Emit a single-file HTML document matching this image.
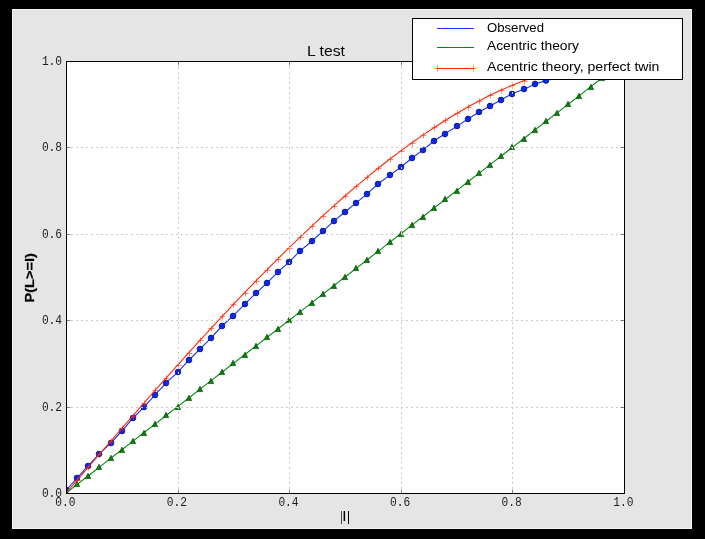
<!DOCTYPE html>
<html><head><meta charset="utf-8"><title>L test</title>
<style>
html,body{margin:0;padding:0;background:#000;}
body{width:705px;height:539px;overflow:hidden;}
svg{display:block;will-change:transform;}
text{font-family:"Liberation Sans",sans-serif;fill:#000;}
.mono{font-family:"Liberation Mono",monospace;font-size:12.7px;fill:#1c1c1c;}
</style></head><body>
<svg width="705" height="539" viewBox="0 0 705 539">
<rect x="0" y="0" width="705" height="539" fill="#000"/>
<rect x="12" y="9" width="680" height="520" fill="#e5e5e5"/>
<rect x="12.5" y="9.5" width="679" height="519" fill="none" stroke="#f4f4f4" stroke-width="1"/>
<rect x="66.5" y="61.5" width="558" height="432" fill="#fff"/>
<defs><clipPath id="ax"><rect x="66.5" y="61.5" width="558" height="432"/></clipPath></defs>
<g clip-path="url(#ax)">
<polyline points="66.00,490.49 77.16,477.84 88.32,465.68 99.48,453.52 110.64,443.36 121.80,431.20 132.96,418.04 144.12,406.88 155.28,394.72 166.44,382.56 177.60,372.40 188.76,360.24 199.92,349.08 211.08,337.92 222.24,325.76 233.40,315.60 244.56,304.44 255.72,293.28 266.88,283.12 278.04,271.96 289.20,261.80 300.36,250.64 311.52,241.48 322.68,231.32 333.84,221.16 345.00,212.00 356.16,202.84 367.32,193.68 378.48,183.52 389.64,175.36 400.80,167.20 411.96,158.04 423.12,149.88 434.28,140.72 445.44,133.56 456.60,126.40 467.76,119.24 478.92,112.08 490.08,105.92 501.24,99.76 512.40,93.60 523.56,89.44 534.72,84.28 545.88,80.62 557.04,75.69 568.20,72.23 579.36,69.21 590.52,66.62 601.68,64.46 612.84,62.73" fill="none" stroke="#1432ff" stroke-width="1.1"/>
<g fill="#0a28f5" stroke="#00003c" stroke-width="0.6">
<circle cx="66.00" cy="490.00" r="2.9"/>
<circle cx="77.00" cy="478.00" r="2.9"/>
<circle cx="88.00" cy="466.00" r="2.9"/>
<circle cx="99.00" cy="454.00" r="2.9"/>
<circle cx="111.00" cy="443.00" r="2.9"/>
<circle cx="122.00" cy="431.00" r="2.9"/>
<circle cx="133.00" cy="418.00" r="2.9"/>
<circle cx="144.00" cy="407.00" r="2.9"/>
<circle cx="155.00" cy="395.00" r="2.9"/>
<circle cx="166.00" cy="383.00" r="2.9"/>
<circle cx="178.00" cy="372.00" r="2.9"/>
<circle cx="189.00" cy="360.00" r="2.9"/>
<circle cx="200.00" cy="349.00" r="2.9"/>
<circle cx="211.00" cy="338.00" r="2.9"/>
<circle cx="222.00" cy="326.00" r="2.9"/>
<circle cx="233.00" cy="316.00" r="2.9"/>
<circle cx="245.00" cy="304.00" r="2.9"/>
<circle cx="256.00" cy="293.00" r="2.9"/>
<circle cx="267.00" cy="283.00" r="2.9"/>
<circle cx="278.00" cy="272.00" r="2.9"/>
<circle cx="289.00" cy="262.00" r="2.9"/>
<circle cx="300.00" cy="251.00" r="2.9"/>
<circle cx="312.00" cy="241.00" r="2.9"/>
<circle cx="323.00" cy="231.00" r="2.9"/>
<circle cx="334.00" cy="221.00" r="2.9"/>
<circle cx="345.00" cy="212.00" r="2.9"/>
<circle cx="356.00" cy="203.00" r="2.9"/>
<circle cx="367.00" cy="194.00" r="2.9"/>
<circle cx="378.00" cy="184.00" r="2.9"/>
<circle cx="390.00" cy="175.00" r="2.9"/>
<circle cx="401.00" cy="167.00" r="2.9"/>
<circle cx="412.00" cy="158.00" r="2.9"/>
<circle cx="423.00" cy="150.00" r="2.9"/>
<circle cx="434.00" cy="141.00" r="2.9"/>
<circle cx="445.00" cy="134.00" r="2.9"/>
<circle cx="457.00" cy="126.00" r="2.9"/>
<circle cx="468.00" cy="119.00" r="2.9"/>
<circle cx="479.00" cy="112.00" r="2.9"/>
<circle cx="490.00" cy="106.00" r="2.9"/>
<circle cx="501.00" cy="100.00" r="2.9"/>
<circle cx="512.00" cy="94.00" r="2.9"/>
<circle cx="524.00" cy="89.00" r="2.9"/>
<circle cx="535.00" cy="84.00" r="2.9"/>
<circle cx="546.00" cy="80.50" r="2.9"/>
<circle cx="557.00" cy="76.00" r="2.9"/>
<circle cx="568.00" cy="72.00" r="2.9"/>
<circle cx="579.00" cy="69.00" r="2.9"/>
<circle cx="591.00" cy="67.00" r="2.9"/>
<circle cx="602.00" cy="64.00" r="2.9"/>
<circle cx="613.00" cy="63.00" r="2.9"/>
</g>
<polyline points="66.00,493.00 77.16,484.36 88.32,475.72 99.48,467.08 110.64,458.44 121.80,449.80 132.96,441.16 144.12,432.52 155.28,423.88 166.44,415.24 177.60,406.60 188.76,397.96 199.92,389.32 211.08,380.68 222.24,372.04 233.40,363.40 244.56,354.76 255.72,346.12 266.88,337.48 278.04,328.84 289.20,320.20 300.36,311.56 311.52,302.92 322.68,294.28 333.84,285.64 345.00,277.00 356.16,268.36 367.32,259.72 378.48,251.08 389.64,242.44 400.80,233.80 411.96,225.16 423.12,216.52 434.28,207.88 445.44,199.24 456.60,190.60 467.76,181.96 478.92,173.32 490.08,164.68 501.24,156.04 512.40,147.40 523.56,138.76 534.72,130.12 545.88,121.48 557.04,112.84 568.20,104.20 579.36,95.56 590.52,86.92 601.68,78.28 612.84,69.64" fill="none" stroke="#008a12" stroke-width="1.1"/>
<g fill="#008a00" stroke="#002800" stroke-width="0.6" stroke-linejoin="miter">
<path d="M66.00,490.20 l-2.7,5.4 h5.4 z"/>
<path d="M77.00,481.20 l-2.7,5.4 h5.4 z"/>
<path d="M88.00,473.20 l-2.7,5.4 h5.4 z"/>
<path d="M99.00,464.20 l-2.7,5.4 h5.4 z"/>
<path d="M111.00,455.20 l-2.7,5.4 h5.4 z"/>
<path d="M122.00,447.20 l-2.7,5.4 h5.4 z"/>
<path d="M133.00,438.20 l-2.7,5.4 h5.4 z"/>
<path d="M144.00,430.20 l-2.7,5.4 h5.4 z"/>
<path d="M155.00,421.20 l-2.7,5.4 h5.4 z"/>
<path d="M166.00,412.20 l-2.7,5.4 h5.4 z"/>
<path d="M178.00,404.20 l-2.7,5.4 h5.4 z"/>
<path d="M189.00,395.20 l-2.7,5.4 h5.4 z"/>
<path d="M200.00,386.20 l-2.7,5.4 h5.4 z"/>
<path d="M211.00,378.20 l-2.7,5.4 h5.4 z"/>
<path d="M222.00,369.20 l-2.7,5.4 h5.4 z"/>
<path d="M233.00,360.20 l-2.7,5.4 h5.4 z"/>
<path d="M245.00,352.20 l-2.7,5.4 h5.4 z"/>
<path d="M256.00,343.20 l-2.7,5.4 h5.4 z"/>
<path d="M267.00,334.20 l-2.7,5.4 h5.4 z"/>
<path d="M278.00,326.20 l-2.7,5.4 h5.4 z"/>
<path d="M289.00,317.20 l-2.7,5.4 h5.4 z"/>
<path d="M300.00,309.20 l-2.7,5.4 h5.4 z"/>
<path d="M312.00,300.20 l-2.7,5.4 h5.4 z"/>
<path d="M323.00,291.20 l-2.7,5.4 h5.4 z"/>
<path d="M334.00,283.20 l-2.7,5.4 h5.4 z"/>
<path d="M345.00,274.20 l-2.7,5.4 h5.4 z"/>
<path d="M356.00,265.20 l-2.7,5.4 h5.4 z"/>
<path d="M367.00,257.20 l-2.7,5.4 h5.4 z"/>
<path d="M378.00,248.20 l-2.7,5.4 h5.4 z"/>
<path d="M390.00,239.20 l-2.7,5.4 h5.4 z"/>
<path d="M401.00,231.20 l-2.7,5.4 h5.4 z"/>
<path d="M412.00,222.20 l-2.7,5.4 h5.4 z"/>
<path d="M423.00,214.20 l-2.7,5.4 h5.4 z"/>
<path d="M434.00,205.20 l-2.7,5.4 h5.4 z"/>
<path d="M445.00,196.20 l-2.7,5.4 h5.4 z"/>
<path d="M457.00,188.20 l-2.7,5.4 h5.4 z"/>
<path d="M468.00,179.20 l-2.7,5.4 h5.4 z"/>
<path d="M479.00,170.20 l-2.7,5.4 h5.4 z"/>
<path d="M490.00,162.20 l-2.7,5.4 h5.4 z"/>
<path d="M501.00,153.20 l-2.7,5.4 h5.4 z"/>
<path d="M512.00,144.20 l-2.7,5.4 h5.4 z"/>
<path d="M524.00,136.20 l-2.7,5.4 h5.4 z"/>
<path d="M535.00,127.20 l-2.7,5.4 h5.4 z"/>
<path d="M546.00,118.20 l-2.7,5.4 h5.4 z"/>
<path d="M557.00,110.20 l-2.7,5.4 h5.4 z"/>
<path d="M568.00,101.20 l-2.7,5.4 h5.4 z"/>
<path d="M579.00,93.20 l-2.7,5.4 h5.4 z"/>
<path d="M591.00,84.20 l-2.7,5.4 h5.4 z"/>
<path d="M602.00,75.20 l-2.7,5.4 h5.4 z"/>
<path d="M613.00,67.20 l-2.7,5.4 h5.4 z"/>
</g>
<polyline points="66.00,493.00 77.16,480.04 88.32,467.09 99.48,454.17 110.64,441.27 121.80,428.42 132.96,415.61 144.12,402.87 155.28,390.20 166.44,377.62 177.60,365.13 188.76,352.74 199.92,340.47 211.08,328.32 222.24,316.30 233.40,304.43 244.56,292.72 255.72,281.17 266.88,269.80 278.04,258.61 289.20,247.62 300.36,236.84 311.52,226.28 322.68,215.94 333.84,205.85 345.00,196.00 356.16,186.41 367.32,177.09 378.48,168.05 389.64,159.30 400.80,150.86 411.96,142.72 423.12,134.90 434.28,127.42 445.44,120.28 456.60,113.49 467.76,107.06 478.92,101.01 490.08,95.34 501.24,90.06 512.40,85.19 523.56,80.74 534.72,76.70 545.88,73.11 557.04,69.96 568.20,67.26 579.36,65.04 590.52,63.29 601.68,62.02 612.84,61.26" fill="none" stroke="#ff2808" stroke-width="1.1"/>
<g stroke="#ff2808" stroke-width="0.6" stroke-opacity="0.95">
<path d="M63.50,493.50 h6 M66.50,490.50 v6"/>
<path d="M74.50,480.50 h6 M77.50,477.50 v6"/>
<path d="M85.50,467.50 h6 M88.50,464.50 v6"/>
<path d="M96.50,454.50 h6 M99.50,451.50 v6"/>
<path d="M108.50,441.50 h6 M111.50,438.50 v6"/>
<path d="M119.50,428.50 h6 M122.50,425.50 v6"/>
<path d="M130.50,416.50 h6 M133.50,413.50 v6"/>
<path d="M141.50,403.50 h6 M144.50,400.50 v6"/>
<path d="M152.50,390.50 h6 M155.50,387.50 v6"/>
<path d="M163.50,378.50 h6 M166.50,375.50 v6"/>
<path d="M175.50,365.50 h6 M178.50,362.50 v6"/>
<path d="M186.50,353.50 h6 M189.50,350.50 v6"/>
<path d="M197.50,340.50 h6 M200.50,337.50 v6"/>
<path d="M208.50,328.50 h6 M211.50,325.50 v6"/>
<path d="M219.50,316.50 h6 M222.50,313.50 v6"/>
<path d="M230.50,304.50 h6 M233.50,301.50 v6"/>
<path d="M242.50,293.50 h6 M245.50,290.50 v6"/>
<path d="M253.50,281.50 h6 M256.50,278.50 v6"/>
<path d="M264.50,270.50 h6 M267.50,267.50 v6"/>
<path d="M275.50,259.50 h6 M278.50,256.50 v6"/>
<path d="M286.50,248.50 h6 M289.50,245.50 v6"/>
<path d="M297.50,237.50 h6 M300.50,234.50 v6"/>
<path d="M309.50,226.50 h6 M312.50,223.50 v6"/>
<path d="M320.50,216.50 h6 M323.50,213.50 v6"/>
<path d="M331.50,206.50 h6 M334.50,203.50 v6"/>
<path d="M342.50,196.50 h6 M345.50,193.50 v6"/>
<path d="M353.50,186.50 h6 M356.50,183.50 v6"/>
<path d="M364.50,177.50 h6 M367.50,174.50 v6"/>
<path d="M375.50,168.50 h6 M378.50,165.50 v6"/>
<path d="M387.50,159.50 h6 M390.50,156.50 v6"/>
<path d="M398.50,151.50 h6 M401.50,148.50 v6"/>
<path d="M409.50,143.50 h6 M412.50,140.50 v6"/>
<path d="M420.50,135.50 h6 M423.50,132.50 v6"/>
<path d="M431.50,127.50 h6 M434.50,124.50 v6"/>
<path d="M442.50,120.50 h6 M445.50,117.50 v6"/>
<path d="M454.50,113.50 h6 M457.50,110.50 v6"/>
<path d="M465.50,107.50 h6 M468.50,104.50 v6"/>
<path d="M476.50,101.50 h6 M479.50,98.50 v6"/>
<path d="M487.50,95.50 h6 M490.50,92.50 v6"/>
<path d="M498.50,90.50 h6 M501.50,87.50 v6"/>
<path d="M509.50,85.50 h6 M512.50,82.50 v6"/>
<path d="M521.50,81.50 h6 M524.50,78.50 v6"/>
<path d="M532.50,77.50 h6 M535.50,74.50 v6"/>
<path d="M543.50,73.50 h6 M546.50,70.50 v6"/>
<path d="M554.50,70.50 h6 M557.50,67.50 v6"/>
<path d="M565.50,67.50 h6 M568.50,64.50 v6"/>
<path d="M576.50,65.50 h6 M579.50,62.50 v6"/>
<path d="M588.50,63.50 h6 M591.50,60.50 v6"/>
<path d="M599.50,62.50 h6 M602.50,59.50 v6"/>
<path d="M610.50,61.50 h6 M613.50,58.50 v6"/>
</g>
<g stroke="#cacaca" stroke-width="1" stroke-dasharray="2 3" fill="none">
<line x1="178.5" y1="494" x2="178.5" y2="61.5"/>
<line x1="66" y1="407.5" x2="624.5" y2="407.5"/>
<line x1="289.5" y1="494" x2="289.5" y2="61.5"/>
<line x1="66" y1="320.5" x2="624.5" y2="320.5"/>
<line x1="401.5" y1="494" x2="401.5" y2="61.5"/>
<line x1="66" y1="234.5" x2="624.5" y2="234.5"/>
<line x1="512.5" y1="494" x2="512.5" y2="61.5"/>
<line x1="66" y1="147.5" x2="624.5" y2="147.5"/>
</g>
</g>
<g stroke="#000" stroke-width="1" stroke-opacity="0.45">
<path d="M66.5,493.5 v-4 M66.5,61.5 v4 M66.5,493.5 h4 M624.5,493.5 h-4"/>
<path d="M178.5,493.5 v-4 M178.5,61.5 v4 M66.5,407.5 h4 M624.5,407.5 h-4"/>
<path d="M289.5,493.5 v-4 M289.5,61.5 v4 M66.5,320.5 h4 M624.5,320.5 h-4"/>
<path d="M401.5,493.5 v-4 M401.5,61.5 v4 M66.5,234.5 h4 M624.5,234.5 h-4"/>
<path d="M512.5,493.5 v-4 M512.5,61.5 v4 M66.5,147.5 h4 M624.5,147.5 h-4"/>
<path d="M624.5,493.5 v-4 M624.5,61.5 v4 M66.5,61.5 h4 M624.5,61.5 h-4"/>
</g>
<rect x="66.5" y="61.5" width="558" height="432" fill="none" stroke="#000" stroke-width="1"/>
<text class="mono" x="65.3" y="506.3" text-anchor="middle" textLength="20.2" lengthAdjust="spacingAndGlyphs">0.0</text>
<text class="mono" x="62.1" y="497.0" text-anchor="end" textLength="20.2" lengthAdjust="spacingAndGlyphs">0.0</text>
<text class="mono" x="176.9" y="506.3" text-anchor="middle" textLength="20.2" lengthAdjust="spacingAndGlyphs">0.2</text>
<text class="mono" x="62.1" y="410.6" text-anchor="end" textLength="20.2" lengthAdjust="spacingAndGlyphs">0.2</text>
<text class="mono" x="288.5" y="506.3" text-anchor="middle" textLength="20.2" lengthAdjust="spacingAndGlyphs">0.4</text>
<text class="mono" x="62.1" y="324.2" text-anchor="end" textLength="20.2" lengthAdjust="spacingAndGlyphs">0.4</text>
<text class="mono" x="400.1" y="506.3" text-anchor="middle" textLength="20.2" lengthAdjust="spacingAndGlyphs">0.6</text>
<text class="mono" x="62.1" y="237.8" text-anchor="end" textLength="20.2" lengthAdjust="spacingAndGlyphs">0.6</text>
<text class="mono" x="511.7" y="506.3" text-anchor="middle" textLength="20.2" lengthAdjust="spacingAndGlyphs">0.8</text>
<text class="mono" x="62.1" y="151.4" text-anchor="end" textLength="20.2" lengthAdjust="spacingAndGlyphs">0.8</text>
<text class="mono" x="623.3" y="506.3" text-anchor="middle" textLength="20.2" lengthAdjust="spacingAndGlyphs">1.0</text>
<text class="mono" x="62.1" y="65.0" text-anchor="end" textLength="20.2" lengthAdjust="spacingAndGlyphs">1.0</text>
<text x="326" y="56" text-anchor="middle" font-size="14" textLength="38" lengthAdjust="spacingAndGlyphs">L test</text>
<g fill="#000"><rect x="341" y="511" width="1" height="13" opacity="0.7"/><rect x="343.6" y="511" width="1.5" height="10"/><rect x="348" y="511" width="1" height="13"/></g>
<text transform="translate(33.6,277.9) rotate(-90)" text-anchor="middle" font-size="13" font-weight="bold" stroke="#000" stroke-width="0.25" textLength="49.4" lengthAdjust="spacingAndGlyphs">P(L&gt;=l)</text>
<rect x="412.5" y="18.5" width="270" height="61" fill="#fff" stroke="#000" stroke-width="1"/>
<line x1="437" y1="28.5" x2="474" y2="28.5" stroke="#1432ff" stroke-width="1"/>
<line x1="437" y1="47.5" x2="474" y2="47.5" stroke="#008a12" stroke-width="1"/>
<line x1="437" y1="68.5" x2="474" y2="68.5" stroke="#ff2808" stroke-width="1"/>
<g stroke="#ff2808" stroke-width="0.6" stroke-opacity="0.95"><path d="M434.5,68.5 h6 M437.5,65.5 v6 M470.5,68.5 h6 M473.5,65.5 v6"/></g>
<text x="487" y="31.5" font-size="13.3" textLength="57" lengthAdjust="spacingAndGlyphs">Observed</text>
<text x="487" y="50" font-size="13.3" textLength="92" lengthAdjust="spacingAndGlyphs">Acentric theory</text>
<text x="487" y="71" font-size="13.3" textLength="172.4" lengthAdjust="spacingAndGlyphs">Acentric theory, perfect twin</text>
</svg></body></html>
